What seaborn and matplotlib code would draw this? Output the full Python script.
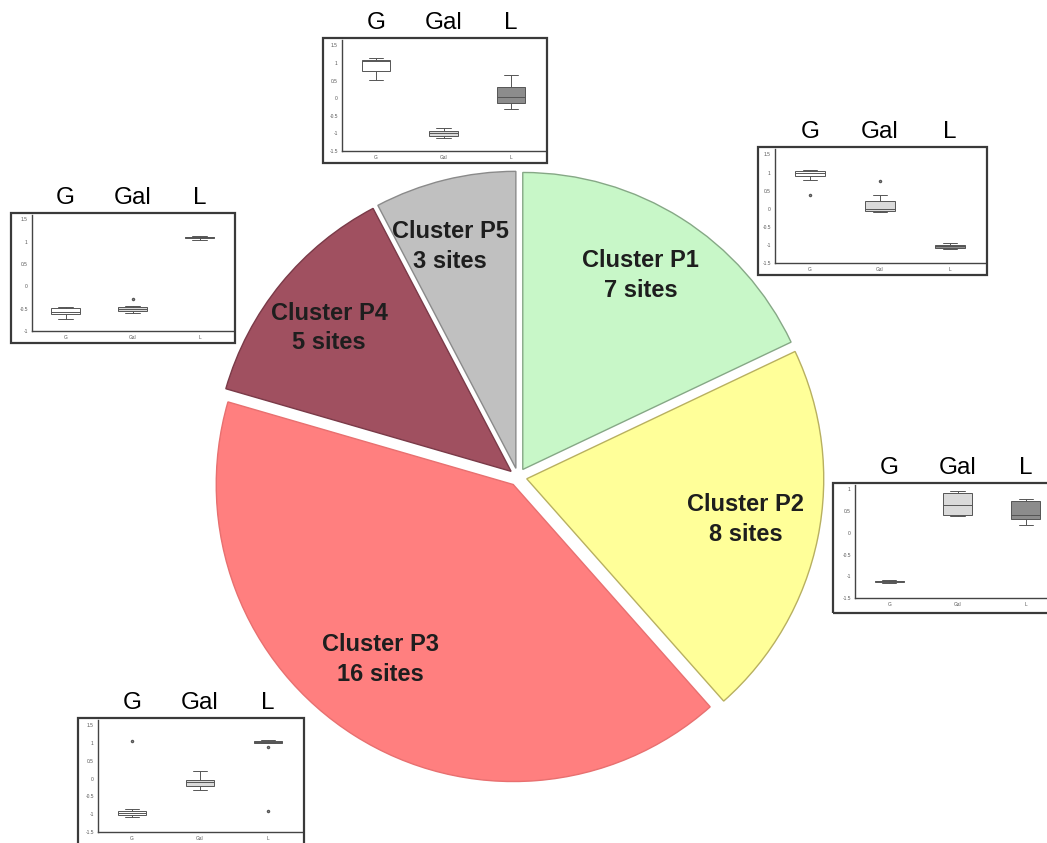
import numpy as np
import pandas as pd
import matplotlib
matplotlib.use("Agg")
import matplotlib.pyplot as plt
from matplotlib.patches import Rectangle
import seaborn as sns

sns.set_style("white")
plt.rcParams['font.family'] = ['Liberation Sans', 'DejaVu Sans']

# pie data
clusters = ["Cluster P1", "Cluster P2", "Cluster P3", "Cluster P4", "Cluster P5"]
sites = [7, 8, 16, 5, 3]
slice_colors = ["#c8f7c8", "#ffff99", "#ff7f7f", "#a05060", "#c0c0c0"]
edge_colors = ["#86a886", "#b8b060", "#e87070", "#7a3a48", "#8a8a8a"]

groups = ["G", "Gal", "L"]

# boxplot values per cluster
p1_g = [0.38, 0.78, 0.9, 0.95, 0.98, 1.0, 1.05, 1.05, 1.06]
p1_gal = [-0.1, -0.07, -0.07, -0.03, 0.0, 0.1, 0.22, 0.38, 0.76]
p1_l = [-1.1, -1.08, -1.02, -0.99, -0.96]

p2_g = [-1.16, -1.14, -1.12, -1.11, -1.09]
p2_gal = [0.38, 0.42, 0.65, 0.92, 0.96]
p2_l = [0.19, 0.31, 0.42, 0.73, 0.77]

p3_g = [-1.09, -1.05, -1.03, -1.0, -0.97, -0.95, -0.92, -0.84, 1.07]
p3_gal = [-0.31, -0.21, -0.1, -0.03, 0.21]
p3_l = [-0.92, 0.89, 1.0, 1.02, 1.03, 1.05, 1.07, 1.08, 1.1]

p4_g = [-0.74, -0.63, -0.57, -0.48, -0.46]
p4_gal = [-0.59, -0.57, -0.56, -0.53, -0.5, -0.48, -0.46, -0.44, -0.28]
p4_l = [1.05, 1.08, 1.1, 1.11, 1.12]

p5_g = [0.52, 0.76, 1.04, 1.07, 1.14]
p5_gal = [-1.12, -1.08, -1.0, -0.92, -0.85]
p5_l = [-0.31, -0.15, 0.02, 0.33, 0.65]

# label placement inside the wedges (radius fraction, angle nudge in degrees)
label_r = [0.763, 0.75, 0.74, 0.78, 0.78]
label_dang = [1, 1, -5, 1, 2.6]

W, H = 1047, 843
fig = plt.figure(figsize=(W / 100, H / 100), dpi=100)

# ---- main pie ----
cx, cy, R = 518, 477, 297
ax = fig.add_axes([(cx - 1.1 * R) / W, (H - cy - 1.1 * R) / H, 2.2 * R / W, 2.2 * R / H])
wedges, _ = ax.pie(sites, colors=slice_colors, startangle=90, counterclock=False,
                   explode=[0.03] * 5, wedgeprops=dict(linewidth=1.0))
for w, ec in zip(wedges, edge_colors):
    w.set_edgecolor(ec)
ax.set_xlim(-1.1, 1.1)
ax.set_ylim(-1.1, 1.1)
ax.set_aspect("equal")
ax.axis("off")

for w, name, n, r, da in zip(wedges, clusters, sites, label_r, label_dang):
    ang = np.deg2rad((w.theta1 + w.theta2) / 2 + da)
    ax.text(w.center[0] + r * np.cos(ang), w.center[1] + r * np.sin(ang),
            f"{name}\n{n} sites", ha="center", va="center", fontsize=17,
            fontweight="bold", color="#1e1e1e", linespacing=1.38)


# ---- small boxplot insets ----
def inset(outer, inner_lb, ylim, yticks, vals):
    l, t, r, b = outer
    il, ib = inner_lb
    fig.add_artist(Rectangle((l / W, 1 - b / H), (r - l) / W, (b - t) / H,
                             transform=fig.transFigure, fill=False,
                             ec="#3a3a3a", lw=1.6, zorder=5))
    ia = fig.add_axes([il / W, 1 - ib / H, (r - 2 - il) / W, (ib - t - 2) / H])
    df = pd.DataFrame({"grp": np.repeat(groups, [len(v) for v in vals]),
                       "val": np.concatenate(vals)})
    sns.boxplot(data=df, x="grp", y="val", hue="grp", order=groups,
                palette=["white", "#dadada", "#8c8c8c"], width=0.42,
                linewidth=0.7, linecolor="#555555", fliersize=1.5,
                legend=False, ax=ia)
    ia.set_xlim(-0.5, 2.5)
    ia.set_ylim(*ylim)
    ia.set_yticks(yticks)
    ia.set_yticklabels([f"{y:g}" for y in yticks])
    ia.set_xlabel("")
    ia.set_ylabel("")
    ia.tick_params(labelsize=3.5, colors="#555555", length=2, width=0.5, pad=1)
    for s in ["top", "right"]:
        ia.spines[s].set_visible(False)
    for s in ["left", "bottom"]:
        ia.spines[s].set_color("#444444")
        ia.spines[s].set_linewidth(1.0)
    ia.patch.set_alpha(0)
    top = ia.secondary_xaxis("top")
    top.set_xticks(range(3))
    top.set_xticklabels(groups)
    top.tick_params(length=0, labelsize=17.5, pad=4, colors="black")
    top.spines["top"].set_visible(False)


inset((758, 147, 987, 275), (775, 263), (-1.5, 1.65),
      [1.5, 1, 0.5, 0, -0.5, -1, -1.5], [p1_g, p1_gal, p1_l])
inset((833, 483, 1062, 613), (855, 598), (-1.5, 1.1),
      [1, 0.5, 0, -0.5, -1, -1.5], [p2_g, p2_gal, p2_l])
inset((78, 718, 304, 852), (98, 832), (-1.5, 1.65),
      [1.5, 1, 0.5, 0, -0.5, -1, -1.5], [p3_g, p3_gal, p3_l])
inset((11, 213, 235, 343), (32, 331), (-1, 1.6),
      [1.5, 1, 0.5, 0, -0.5, -1], [p4_g, p4_gal, p4_l])
inset((323, 38, 547, 163), (342, 151), (-1.5, 1.65),
      [1.5, 1, 0.5, 0, -0.5, -1, -1.5], [p5_g, p5_gal, p5_l])

fig.savefig("out.png", dpi=100)
